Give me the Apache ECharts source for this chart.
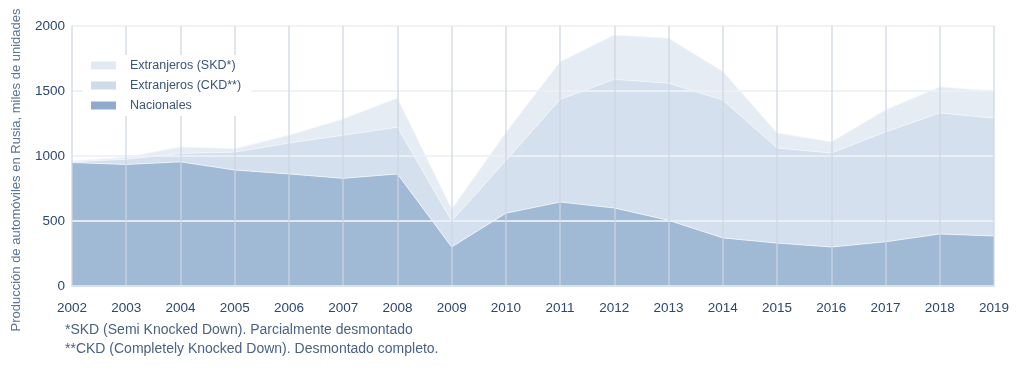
<!DOCTYPE html>
<html>
<head>
<meta charset="utf-8">
<script src="https://cdn.jsdelivr.net/npm/echarts@6/dist/echarts.min.js"></script>
<style>
html,body{margin:0;padding:0;background:#fff;}
#c{width:1021px;height:380px;}
</style>
</head>
<body>
<div id="c"></div>
<script>
var years = ['2002','2003','2004','2005','2006','2007','2008','2009','2010','2011','2012','2013','2014','2015','2016','2017','2018','2019'];
var nacionales = [950, 935, 955, 892, 862, 828, 862, 300, 560, 646, 600, 505, 370, 330, 300, 340, 400, 385];
var ckd = [5, 40, 65, 138, 238, 332, 360, 200, 405, 789, 990, 1055, 1060, 732, 723, 845, 931, 907];
var skd = [7, 15, 50, 25, 60, 125, 224, 90, 215, 290, 340, 345, 220, 115, 85, 169, 200, 208];
var yTicks = [0, 500, 1000, 1500, 2000];
var seriesNames = ['Extranjeros (SKD*)', 'Extranjeros (CKD**)', 'Nacionales'];
var footnotes = ['*SKD (Semi Knocked Down). Parcialmente desmontado', '**CKD (Completely Knocked Down). Desmontado completo.'];
var yTitle = 'Producción de automóviles en Rusia, miles de unidades';

var chart = echarts.init(document.getElementById('c'), null, {renderer: 'canvas'});
var tickFont = {fontFamily: '"Liberation Sans", Arial, sans-serif', fontSize: 13.5, color: '#2c4770'};
function areaSeries(name, data, color) {
  return {
    name: name, type: 'line', stack: 'total', data: data,
    symbol: 'none', smooth: false,
    lineStyle: {width: 1, color: 'rgba(242,246,250,0.8)'},
    areaStyle: {color: color, opacity: 1},
    itemStyle: {color: color},
    emphasis: {disabled: true}
  };
}
chart.setOption({
  animation: false,
  backgroundColor: '#ffffff',
  grid: {left: 72, right: 27, top: 26, bottom: 94},
  legend: {
    orient: 'vertical', left: 83, top: 55, z: 20,
    backgroundColor: '#ffffff', padding: [4, 10, 4, 8],
    itemWidth: 25, itemHeight: 8, itemGap: 7,
    icon: 'rect',
    data: [
      {name: seriesNames[0], itemStyle: {color: '#e2e9f2'}},
      {name: seriesNames[1], itemStyle: {color: '#cfdbe9'}},
      {name: seriesNames[2], itemStyle: {color: '#8eabcb'}}
    ],
    textStyle: {fontFamily: 'Arial, "Liberation Sans", sans-serif', fontSize: 12.5, color: '#3b5479', padding: [0, 0, 0, 9]}
  },
  xAxis: {
    type: 'category', data: years, boundaryGap: false, z: 10,
    axisLine: {show: true, lineStyle: {color: '#d6e1ed', width: 2}},
    axisTick: {show: false},
    axisLabel: Object.assign({margin: 15}, tickFont),
    splitLine: {show: true, lineStyle: {color: 'rgba(205,214,227,0.6)', width: 2}}
  },
  yAxis: {
    type: 'value', min: 0, max: 2000, interval: 500, z: 10,
    axisLine: {show: false}, axisTick: {show: false},
    axisLabel: Object.assign({margin: 7, formatter: function(v){ return yTicks.indexOf(v) >= 0 ? String(v) : ''; }}, tickFont),
    splitLine: {show: true, lineStyle: {color: 'rgba(236,241,247,0.85)', width: 2}}
  },
  series: [
    areaSeries(seriesNames[2], nacionales, '#a0b9d5'),
    areaSeries(seriesNames[1], ckd, '#d4e0ed'),
    areaSeries(seriesNames[0], skd, '#e5ecf4')
  ],
  graphic: [
    {type: 'text', x: 16, y: 170, rotation: Math.PI / 2,
     style: {text: yTitle, font: '13px Arial, "Liberation Sans", sans-serif', fill: '#5b7497', align: 'center', verticalAlign: 'middle'}},
    {type: 'text', left: 65, top: 323, style: {text: footnotes[0], font: '14px Arial, "Liberation Sans", sans-serif', fill: '#4a6283'}},
    {type: 'text', left: 65, top: 342, style: {text: footnotes[1], font: '14px Arial, "Liberation Sans", sans-serif', fill: '#4a6283'}}
  ]
});
</script>
</body>
</html>
